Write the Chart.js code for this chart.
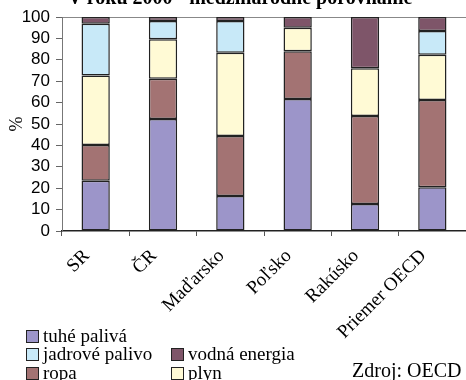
<!DOCTYPE html>
<html>
<head>
<meta charset="utf-8">
<script src="https://cdn.jsdelivr.net/npm/chart.js@4"></script>
<style>
html,body{margin:0;padding:0;background:#fff;overflow:hidden;}
#wrap{position:relative;width:466px;height:380px;}
#c{position:absolute;left:0;top:0;}
.title{position:absolute;left:0;width:480px;text-align:center;top:-13px;font:bold 20px "Liberation Serif",serif;line-height:20px;white-space:nowrap;color:#000;}
.leg{position:absolute;font-family:"Liberation Serif",serif;font-size:19px;color:#000;line-height:19px;white-space:nowrap;}
.box{position:absolute;width:11px;height:11px;border:1px solid #222;}
.src{position:absolute;font-family:"Liberation Serif",serif;font-size:20px;color:#000;white-space:nowrap;}
</style>
</head>
<body>
<div id="wrap">
<canvas id="c" width="466" height="380"></canvas>
<div class="title">V roku 2000 - medzinárodné porovnanie</div>
<div id="legend"></div>
<div class="src" style="left:352px;top:359px;">Zdroj: OECD</div>
</div>
<script>
const categories = ["SR", "ČR", "Maďarsko", "Poľsko", "Rakúsko", "Priemer OECD"];
const tuhePaliva   = [23.5, 52.3, 16.4, 61.7, 12.6, 20.4];
const ropa         = [16.7, 18.9, 28.0, 22.3, 41.1, 40.8];
const plyn         = [32.5, 18.4, 38.9, 11.0, 22.3, 21.2];
const jadrovePalivo= [24.1,  8.5, 14.8,  0.0,  0.0, 11.1];
const vodnaEnergia = [ 3.2,  1.9,  1.9,  5.0, 24.0,  6.5];
const yTicks = [0,10,20,30,40,50,60,70,80,90,100];

const series = [
  {label:"tuhé palivá", data:tuhePaliva, color:"#9c95c9"},
  {label:"ropa", data:ropa, color:"#a37373"},
  {label:"plyn", data:plyn, color:"#fffad5"},
  {label:"jadrové palivo", data:jadrovePalivo, color:"#c8e9f8"},
  {label:"vodná energia", data:vodnaEnergia, color:"#7e5569"}
];

new Chart(document.getElementById('c'), {
  type:'bar',
  data:{
    labels:categories,
    datasets:series.map(s=>({
      label:s.label, data:s.data, backgroundColor:s.color,
      borderColor:'#222', borderWidth:1.5, borderSkipped:false,
      categoryPercentage:1, barPercentage:0.42
    }))
  },
  options:{
    responsive:false, animation:false,
    layout:{padding:{top:17,left:0,right:0,bottom:0}},
    plugins:{legend:{display:false},tooltip:{enabled:false},title:{display:false}},
    scales:{
      x:{
        stacked:true,
        grid:{offset:true, drawOnChartArea:false, tickLength:5, tickColor:'#555'},
        border:{display:true, color:'#222', width:1.5},
        ticks:{maxRotation:45, minRotation:45, autoSkip:false, color:'#000', padding:9, labelOffset:-9,
               font:{family:'"Liberation Serif", serif', size:19}},
        afterFit:s=>{s.height=149;}
      },
      y:{
        stacked:true, min:0, max:100,
        afterBuildTicks:s=>{s.ticks=yTicks.map(v=>({value:v}));},
        grid:{drawOnChartArea:true, tickLength:6, tickColor:'#666',
              color:c=>(c.tick && c.tick.value===100)?'#888':'rgba(0,0,0,0)'},
        border:{display:true, color:'#777', width:1},
        ticks:{autoSkip:false, color:'#000', padding:6, font:{family:'"Liberation Sans", Arial, sans-serif', size:17}},
        title:{display:true, text:'%', color:'#000', padding:{top:6,bottom:0},
               font:{family:'"Liberation Serif", serif', size:18}},
        afterFit:s=>{s.width=62;}
      }
    }
  }
});

// legend (custom layout like the original)
const pos = {
  "tuhé palivá":[26,330],
  "jadrové palivo":[26,348],
  "vodná energia":[171,348],
  "ropa":[26,367],
  "plyn":[171,367]
};
const lg = document.getElementById('legend');
series.forEach(s=>{
  const p = pos[s.label];
  const b = document.createElement('div');
  b.className='box'; b.style.left=p[0]+'px'; b.style.top=p[1]+'px'; b.style.background=s.color;
  lg.appendChild(b);
  const t = document.createElement('div');
  t.className='leg'; t.style.left=(p[0]+17)+'px'; t.style.top=(p[1]-4)+'px'; t.textContent=s.label;
  lg.appendChild(t);
});
</script>
</body>
</html>
